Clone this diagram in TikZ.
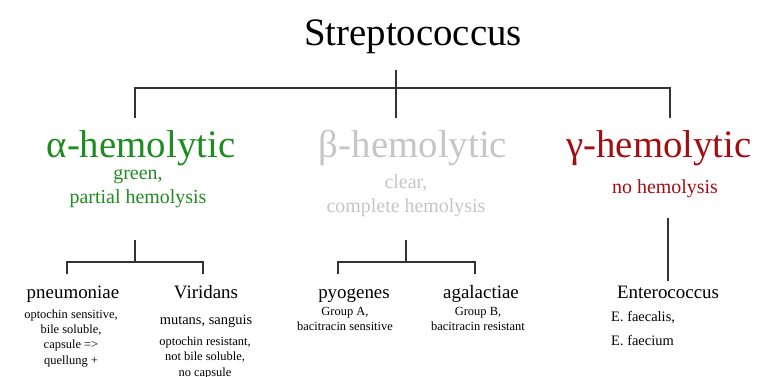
\documentclass[tikz,border=0pt]{standalone}
\usepackage{fontspec}
\setmainfont{Liberation Serif}
\usepackage{xcolor}
\usepackage{tikz}
\usetikzlibrary{positioning}
\definecolor{alphagreen}{HTML}{1E8C1E}
\definecolor{betagrey}{HTML}{C6C6C6}
\definecolor{gammared}{HTML}{A30E12}
\definecolor{treeline}{HTML}{333333}

\tikzset{
  heading/.style={anchor=base, inner sep=0pt, font=\fontsize{39}{42}\selectfont},
  note/.style={anchor=base, inner sep=0pt, align=center, font=\fontsize{20}{23.5}\selectfont},
  species/.style={anchor=base, inner sep=0pt, font=\fontsize{19}{22}\selectfont},
  detail/.style={anchor=base, inner sep=0pt, align=center, font=\fontsize{12.5}{15.2}\selectfont},
  branch/.style={draw=treeline, line width=1.2pt},
}

\begin{document}
\begin{tikzpicture}[x=1bp, y=-1bp]
  \useasboundingbox[fill=white] (0,0) rectangle (768,376);

  % title and the three groups
  \node[heading] (strep) at (413,45) {Streptococcus};
  \node[heading, text=alphagreen] (alpha) at (141,157) {α-hemolytic};
  \node[heading, text=betagrey] (beta) at (413,157) {β-hemolytic};
  \node[heading, text=gammared] (gamma) at (659,157) {γ-hemolytic};

  % multi-line nodes sit on their last line
  \node[note, text=alphagreen] (alphanote) at (138,203) {green,\\partial hemolysis};
  \node[note, text=betagrey] (betanote) at (406,212) {clear,\\complete hemolysis};
  \node[note, text=gammared] (gammanote) at (665,193) {no hemolysis};

  % species
  \node[species] (pneumo) at (73,298) {pneumoniae};
  \node[species] (virid) at (206,298) {Viridans};
  \node[species] (pyo) at (354,298) {pyogenes};
  \node[species] (agal) at (481,298) {agalactiae};
  \node[species] (entero) at (668,298) {Enterococcus};

  \node[detail] (pneumonote) at (71,364) {optochin sensitive,\\bile soluble,\\capsule =>\\quellung +};
  \node[detail, font=\fontsize{14.5}{17}\selectfont] (viridkinds) at (206,324) {mutans, sanguis};
  \node[detail] (viridnote) at (205,376) {optochin resistant,\\not bile soluble,\\no capsule};
  \node[detail] (pyonote) at (345,330.5) {Group A,\\bacitracin sensitive};
  \node[detail] (agalnote) at (478,330.5) {Group B,\\bacitracin resistant};
  \node[detail, anchor=base west, align=left, font=\fontsize{14.5}{23.5}\selectfont] (enteronote) at (611,345) {E. faecalis,\\E. faecium};

  % junctions of the tree
  \coordinate (rootstem) at (396,70);
  \coordinate (rootbar) at (396,88);
  \coordinate (alphatip) at (135,118);
  \coordinate (betatip) at (396,118);
  \coordinate (gammatip) at (670,118);

  \coordinate (alphastem) at (135,240);
  \coordinate (alphabar) at (135,262);
  \coordinate (pneumotip) at (67,274);
  \coordinate (viridtip) at (203,274);

  \coordinate (betastem) at (406,240);
  \coordinate (betabar) at (406,262);
  \coordinate (pyotip) at (338,274);
  \coordinate (agaltip) at (475,274);

  \coordinate (gammastem) at (668,218);
  \coordinate (enterotip) at (668,281);

  \draw[branch] (rootstem) -- (betatip);
  \draw[branch] (alphatip) |- (rootbar) -| (gammatip);

  \draw[branch] (alphastem) -- (alphabar);
  \draw[branch] (pneumotip) |- (alphabar) -| (viridtip);

  \draw[branch] (betastem) -- (betabar);
  \draw[branch] (pyotip) |- (betabar) -| (agaltip);

  \draw[branch] (gammastem) -- (enterotip);
\end{tikzpicture}
\end{document}
